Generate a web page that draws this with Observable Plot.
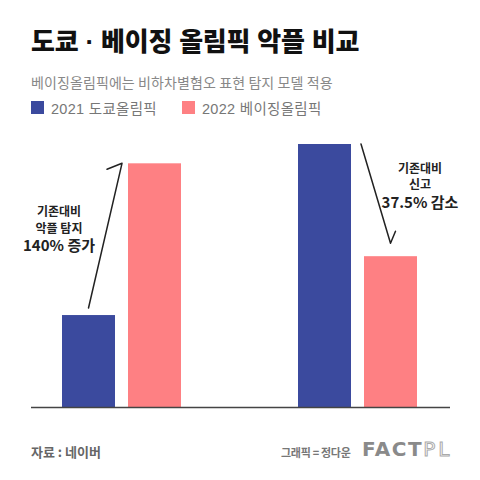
<!DOCTYPE html>
<html><head><meta charset="utf-8">
<script src="https://cdn.jsdelivr.net/npm/d3@7"></script>
<script src="https://cdn.jsdelivr.net/npm/@observablehq/plot@0.6"></script>
<style>
html,body{margin:0;padding:0;background:#fff;width:480px;height:480px;overflow:hidden}
body{font-family:"Noto Sans CJK KR","Noto Sans",sans-serif}
#header{position:relative;height:130px}
#title{position:absolute;left:31px;top:27px;font-family:"Liberation Sans","Noto Sans CJK KR",sans-serif;font-size:26px;line-height:30px;font-weight:900;color:#111;letter-spacing:-0.2px;white-space:nowrap}
#subtitle{position:absolute;left:31px;top:74px;font-size:14px;line-height:16px;color:#888;white-space:nowrap;letter-spacing:0.1px}
.item{position:absolute;top:97px;height:20px;display:flex;align-items:center;font-family:"Liberation Sans","Noto Sans CJK KR",sans-serif;font-size:14.5px;color:#777;white-space:nowrap;letter-spacing:0.3px}
.sw{width:13px;height:13px;display:inline-block;margin-right:7px}
#chart svg{display:block}
#footer{position:relative;height:65px}
#source{position:absolute;left:31px;top:29px;font-size:13px;line-height:16px;font-weight:700;color:#666}
#credit{position:absolute;left:281px;top:30px;font-size:11px;line-height:14px;font-weight:700;color:#777;letter-spacing:-0.3px}
#logo{position:absolute;left:362px;top:22px;font-family:"DejaVu Sans",sans-serif;font-weight:700;font-size:20px;line-height:24px;color:#8a8a8a;letter-spacing:1.5px;white-space:nowrap}
#logo .pl{color:#fff;-webkit-text-stroke:1px #aaa;font-weight:400;letter-spacing:3px}
</style>
</head><body>
<div id="header">
  <div id="title"></div>
  <div id="subtitle"></div>
  <div id="leg0" class="item" style="left:31px"><span class="sw"></span><span class="lt"></span></div>
  <div id="leg1" class="item" style="left:182px"><span class="sw"></span><span class="lt"></span></div>
</div>
<div id="chart"></div>
<div id="footer">
  <div id="source"></div>
  <div id="credit"></div>
  <div id="logo">FACT<span class="pl">PL</span></div>
</div>
<script>
// ---- text ----
const titleText = "도쿄 · 베이징 올림픽 악플 비교";
const subtitleText = "베이징올림픽에는 비하차별혐오 표현 탐지 모델 적용";
const sourceText = "자료 : 네이버";
const creditText = "그래픽 = 정다운";

// ---- data (relative index, 2021 악플 탐지 = 100) ----
const groups = ["악플 탐지", "신고"];
const seriesNames = ["2021 도쿄올림픽", "2022 베이징올림픽"];
const tokyo2021 = [100, 286];
const beijing2022 = [265, 164];
const colors = ["#3b4a9e", "#fe8083"];

const annoLeft = ["기존대비", "악플 탐지", "140% 증가"];
const annoRight = ["기존대비", "신고", "37.5% 감소"];

document.getElementById("title").textContent = titleText;
document.getElementById("subtitle").textContent = subtitleText;
document.getElementById("source").textContent = sourceText;
document.getElementById("credit").textContent = creditText;
["leg0","leg1"].forEach((id, i) => {
  const el = document.getElementById(id);
  el.querySelector(".sw").style.background = colors[i];
  el.querySelector(".lt").textContent = seriesNames[i];
});

const rows = groups.flatMap((g, i) => [
  {group: g, series: seriesNames[0], value: tokyo2021[i]},
  {group: g, series: seriesNames[1], value: beijing2022[i]}
]);

const chart = Plot.plot({
  width: 480,
  height: 285,
  marginLeft: 62,
  marginRight: 63,
  marginTop: 14,
  marginBottom: 8,
  x: {domain: groups, paddingInner: 0.496, paddingOuter: 0, axis: null},
  y: {domain: [0, d3.max(rows, d => d.value)], axis: null},
  marks: [
    Plot.barY(rows.filter(d => d.series === seriesNames[0]), {x: "group", y: "value", fill: colors[0], insetRight: 66}),
    Plot.barY(rows.filter(d => d.series === seriesNames[1]), {x: "group", y: "value", fill: colors[1], insetLeft: 66}),
    Plot.ruleY([0], {stroke: "#444", strokeWidth: 1.4, insetLeft: -31, insetRight: -33})
  ]
});
document.getElementById("chart").appendChild(chart);

// ---- annotations positioned with Plot's scales ----
const xs = chart.scale("x"), ys = chart.scale("y");
const bw = xs.bandwidth;
const svg = d3.select(chart);
const g = svg.append("g").attr("fill", "none").attr("stroke", "#222").attr("stroke-width", 1.5).attr("stroke-linecap", "round");

// left: 2021 → 2022 (악플 탐지)
const b0 = xs.apply(groups[0]);
const l1 = [b0 + 26.5, ys.apply(tokyo2021[0]) - 7];
const l2 = [b0 + 60, ys.apply(beijing2022[0])];
g.append("path").attr("d", `M${l1}L${l2}M${l2[0]-15},${l2[1]+6}L${l2}`);

// right: 2021 → 2022 (신고)
const b1 = xs.apply(groups[1]);
const r1 = [b1 + 63, ys.apply(tokyo2021[1])];
const r2 = [b1 + 92.5, ys.apply(beijing2022[1]) - 13];
g.append("path").attr("d", `M${r1}L${r2}M${r2[0]+5},${r2[1]-12}L${r2}`);

const t = svg.append("g").attr("fill", "#222").attr("font-family", '"Noto Sans CJK KR", sans-serif').attr("font-weight", 700).attr("text-anchor", "middle");
const ly = ys.apply(beijing2022[0]);
[[annoLeft[0], 52.5, 12], [annoLeft[1], 69.5, 12], [annoLeft[2], 88, 15]].forEach(([s, dy, fs]) =>
  t.append("text").attr("x", b0 - 3).attr("y", ly + dy).attr("font-size", fs).text(s));
const ry = ys.apply(tokyo2021[1]);
[[annoRight[0], 29, 12], [annoRight[1], 45, 12], [annoRight[2], 64, 15]].forEach(([s, dy, fs]) =>
  t.append("text").attr("x", b1 + bw + 3).attr("y", ry + dy).attr("font-size", fs).text(s));
</script>
</body></html>
